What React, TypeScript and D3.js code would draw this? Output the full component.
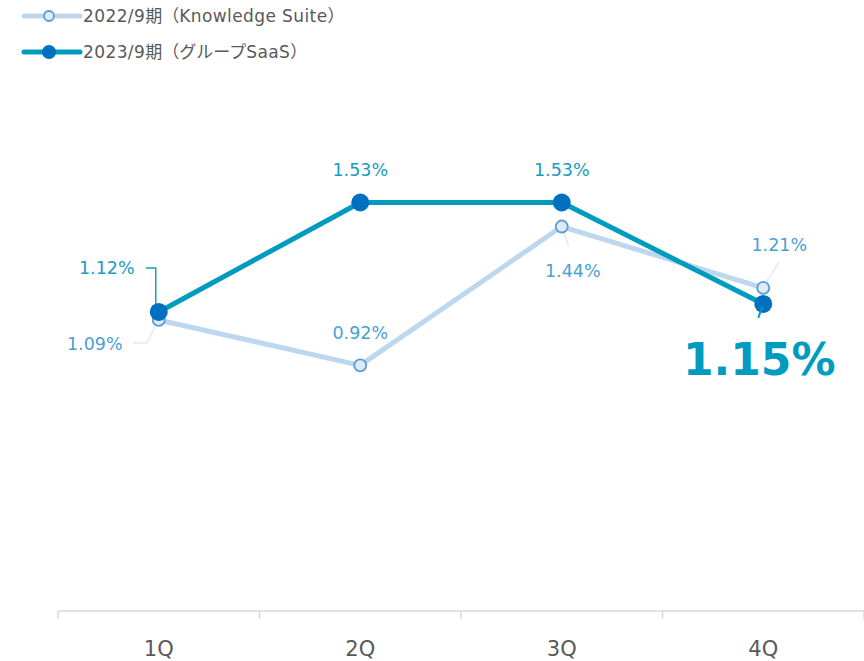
import React from "react";
import * as d3 from "d3";

const categories = ["1Q", "2Q", "3Q", "4Q"];
const series2022 = [1.09, 0.92, 1.44, 1.21];
const series2023 = [1.12, 1.53, 1.53, 1.15];
const legendLabels = ["2022/9期（Knowledge Suite）", "2023/9期（グループSaaS）"];

const W = 864;
const H = 661;
const FONT = "'DejaVu Sans', Verdana, sans-serif";
const CJK = "'Noto Sans CJK JP', sans-serif";

function runs(s: string) {
  const out: { t: string; cjk: boolean }[] = [];
  for (const ch of s) {
    const cjk = /[\u3000-\u9fff\uff00-\uffef]/.test(ch);
    const last = out[out.length - 1];
    if (last && last.cjk === cjk) last.t += ch;
    else out.push({ t: ch, cjk });
  }
  return out;
}

export default function App() {
  const x = d3.scaleBand<string>().domain(categories).range([58, 864]);
  const cx = (c: string) => (x(c) as number) + x.bandwidth() / 2;
  const y = d3.scaleLinear().domain([0, 2]).range([611, 77]);
  const line = d3
    .line<number>()
    .x((_, i) => cx(categories[i]))
    .y((d) => y(d));

  const c22 = "#BDD7EE";
  const c22m = "#5B9BD5";
  const c22t = "#4A9FD6";
  const c23 = "#009BBF";
  const c23m = "#0070C0";
  const c23t = "#1A9BC0";

  const fmt = (v: number) => v.toFixed(2) + "%";

  const p = (i: number, s: number[]) => [cx(categories[i]), y(s[i])];

  const [a0x, a0y] = p(0, series2023);
  const [b0x, b0y] = p(0, series2022);
  const [b2x, b2y] = p(2, series2022);
  const [b3x, b3y] = p(3, series2022);
  const [a3x, a3y] = p(3, series2023);

  const ticks = [...categories.map((c) => x(c) as number), 864];

  const legendText = (s: string, yy: number) => (
    <text x={83} y={yy}>
      {runs(s).map((r, i) => (
        <tspan key={i} fontFamily={r.cjk ? CJK : FONT} fontSize={17} letterSpacing={r.cjk ? 0 : 0.4}>
          {r.t}
        </tspan>
      ))}
    </text>
  );

  return (
    <svg width={W} height={H} style={{ position: "absolute", left: 0, top: 0 }}>
      <rect width={W} height={H} fill="#fff" />
      {/* legend */}
      <g fontFamily={FONT} fontSize={16} fill="#595959">
        <line x1={24} x2={80} y1={16} y2={16} stroke={c22} strokeWidth={5} strokeLinecap="round" />
        <circle cx={49} cy={16} r={5} fill="#DDEBF7" stroke={c22m} strokeWidth={1.8} />
        {legendText(legendLabels[0], 22)}
        <line x1={24} x2={80} y1={52} y2={52} stroke={c23} strokeWidth={5} strokeLinecap="round" />
        <circle cx={49} cy={52} r={7} fill={c23m} />
        {legendText(legendLabels[1], 58)}
      </g>

      {/* axis */}
      <line x1={58} x2={864} y1={611} y2={611} stroke="#D9D9D9" strokeWidth={1.5} />
      {ticks.map((t, i) => (
        <line key={i} x1={t} x2={t} y1={611} y2={619} stroke="#D9D9D9" strokeWidth={1.5} />
      ))}
      {categories.map((c) => (
        <text key={c} x={cx(c)} y={656} textAnchor="middle" fontFamily={FONT} fontSize={21} fill="#595959">
          {c}
        </text>
      ))}

      {/* leader lines */}
      <polyline points={`${a0x - 13},268 ${a0x - 3},268 ${a0x - 3},${a0y - 6}`} fill="none" stroke={c23t} strokeWidth={1.5} />
      <polyline points={`${b0x - 26},${b0y + 23} ${b0x - 12},${b0y + 23} ${b0x - 3},${b0y + 5}`} fill="none" stroke="#DDEBF7" strokeWidth={1.5} />
      <line x1={b2x + 2} y1={b2y + 6} x2={b2x + 7} y2={b2y + 20} stroke="#DDEBF7" strokeWidth={1.5} />
      <line x1={b3x + 3} y1={b3y - 6} x2={b3x + 16} y2={b3y - 26} stroke="#DDEBF7" strokeWidth={1.5} />

      {/* series */}
      <path d={line(series2022) as string} fill="none" stroke={c22} strokeWidth={5} strokeLinejoin="round" />
      <path d={line(series2023) as string} fill="none" stroke={c23} strokeWidth={5} strokeLinejoin="round" />
      {series2022.map((v, i) => (
        <circle key={"a" + i} cx={cx(categories[i])} cy={y(v)} r={6} fill="#DDEBF7" stroke={c22m} strokeWidth={1.8} />
      ))}
      {series2023.map((v, i) => (
        <circle key={"b" + i} cx={cx(categories[i])} cy={y(v)} r={9} fill={c23m} />
      ))}
      <line x1={a3x - 1} y1={a3y + 3} x2={a3x - 5} y2={a3y + 14} stroke={c23} strokeWidth={2} />

      {/* labels */}
      <g fontFamily={FONT} fontSize={17.5}>
        <text x={a0x - 52} y={274} textAnchor="middle" fill={c23t}>{fmt(series2023[0])}</text>
        <text x={cx(categories[1])} y={y(series2023[1]) - 26} textAnchor="middle" fill={c23t}>{fmt(series2023[1])}</text>
        <text x={cx(categories[2])} y={y(series2023[2]) - 26} textAnchor="middle" fill={c23t}>{fmt(series2023[2])}</text>
        <text x={b0x - 64} y={b0y + 30} textAnchor="middle" fill={c22t}>{fmt(series2022[0])}</text>
        <text x={cx(categories[1])} y={y(series2022[1]) - 26} textAnchor="middle" fill={c22t}>{fmt(series2022[1])}</text>
        <text x={b2x + 11} y={b2y + 50} textAnchor="middle" fill={c22t}>{fmt(series2022[2])}</text>
        <text x={b3x + 16} y={b3y - 37} textAnchor="middle" fill={c22t}>{fmt(series2022[3])}</text>
      </g>
      <text x={a3x - 4} y={a3y + 71} textAnchor="middle" fontFamily={FONT} fontWeight="bold" fontSize={44} fill={c23}>
        {fmt(series2023[3])}
      </text>
    </svg>
  );
}
